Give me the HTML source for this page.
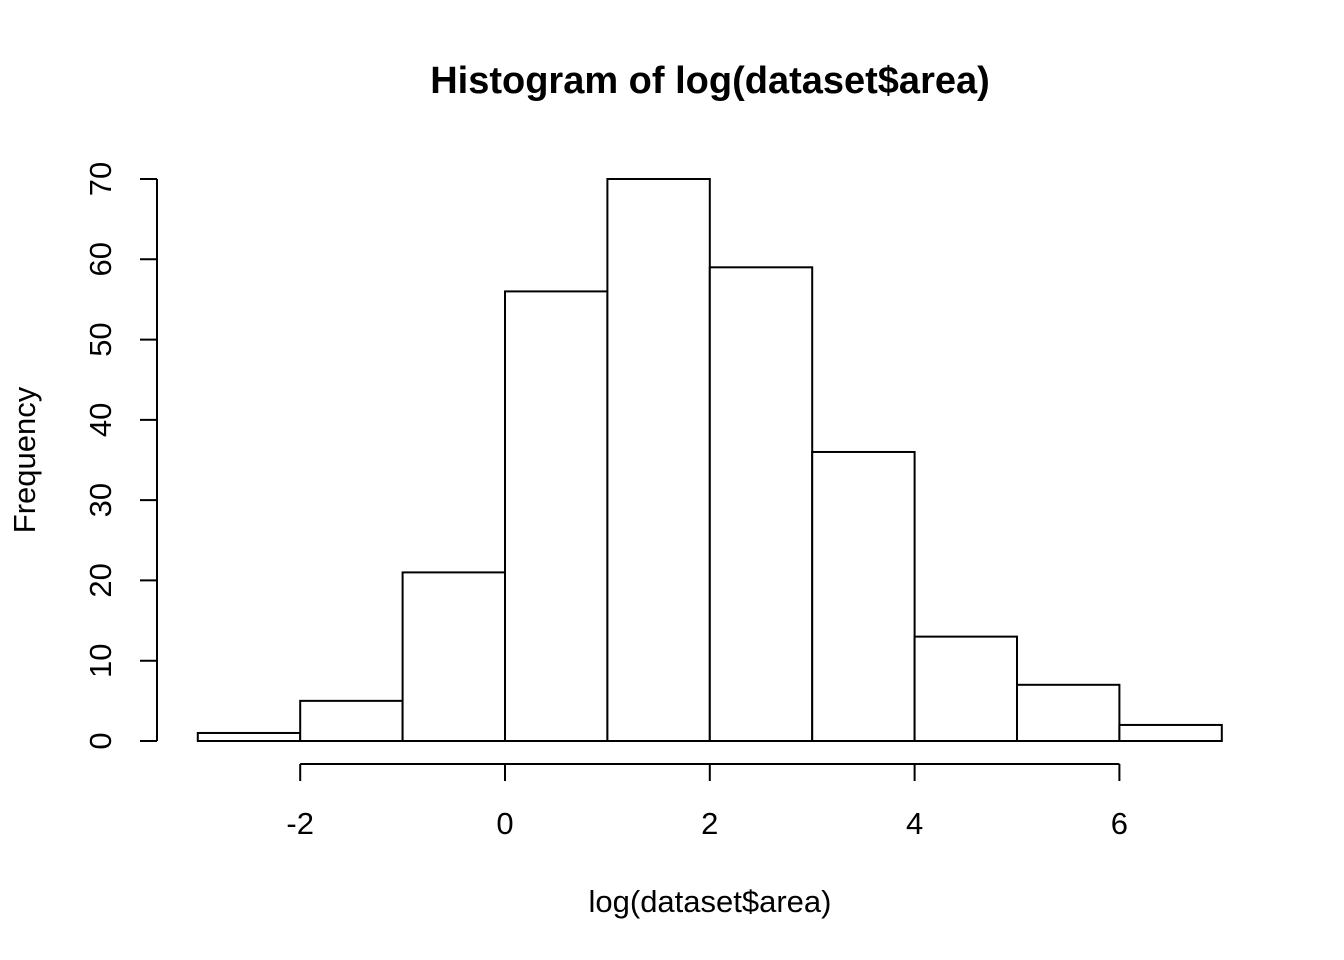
<!DOCTYPE html>
<html><head><meta charset="utf-8"><style>
html,body{margin:0;padding:0;background:#fff;}
svg{display:block;font-family:"Liberation Sans",Arial,sans-serif;}
</style></head><body>
<svg id="chart" width="1344" height="960" viewBox="0 0 1344 960">
<text x="710" y="93" text-anchor="middle" font-size="38" font-weight="bold">Histogram of log(dataset$area)</text>
<text x="710" y="912" text-anchor="middle" font-size="31">log(dataset$area)</text>
<text transform="translate(35,460) rotate(-90)" text-anchor="middle" font-size="31">Frequency</text>
<g id="bars"></g>
<g id="xaxis"></g>
<g id="yaxis"></g>
</svg>
<script>
const binStarts = [-3,-2,-1,0,1,2,3,4,5,6];
const binWidth = 1;
const counts = [1,5,21,56,70,59,36,13,7,2];
const xTicks = [-2,0,2,4,6];
const yTicks = [0,10,20,30,40,50,60,70];

const NS = "http://www.w3.org/2000/svg";
function X(v){ return 505 + v*102.4; }
function Y(v){ return 741 - v*(562/70); }
function mk(tag, attrs, parent){
  const e = document.createElementNS(NS, tag);
  for (const k in attrs) e.setAttribute(k, attrs[k]);
  parent.appendChild(e); return e;
}
const bars = document.getElementById('bars');
binStarts.forEach((s,i)=>{
  const r = mk('rect',{x:X(s),y:Y(counts[i]),width:X(s+binWidth)-X(s),height:Y(0)-Y(counts[i]),fill:'#fff',stroke:'#000','stroke-width':2},bars);
  
  
});
const xa = document.getElementById('xaxis');
const xl = mk('line',{x1:X(xTicks[0]),x2:X(xTicks[xTicks.length-1]),y1:764,y2:764,stroke:'#000','stroke-width':2},xa);


xTicks.forEach(t=>{
  mk('line',{x1:X(t),x2:X(t),y1:764,y2:781,stroke:'#000','stroke-width':2},xa);
  const tx = mk('text',{x:X(t),y:834,'text-anchor':'middle','font-size':31},xa);
  tx.textContent = t;
  
  
});
const ya = document.getElementById('yaxis');
const yl = mk('line',{x1:157,x2:157,y1:Y(yTicks[0]),y2:Y(yTicks[yTicks.length-1]),stroke:'#000','stroke-width':2},ya);


yTicks.forEach(t=>{
  mk('line',{x1:140,x2:157,y1:Y(t),y2:Y(t),stroke:'#000','stroke-width':2},ya);
  const tx = mk('text',{transform:'translate(111,'+Y(t)+') rotate(-90)','text-anchor':'middle','font-size':31},ya);
  tx.textContent = t;
  
  
});
</script>
</body></html>
